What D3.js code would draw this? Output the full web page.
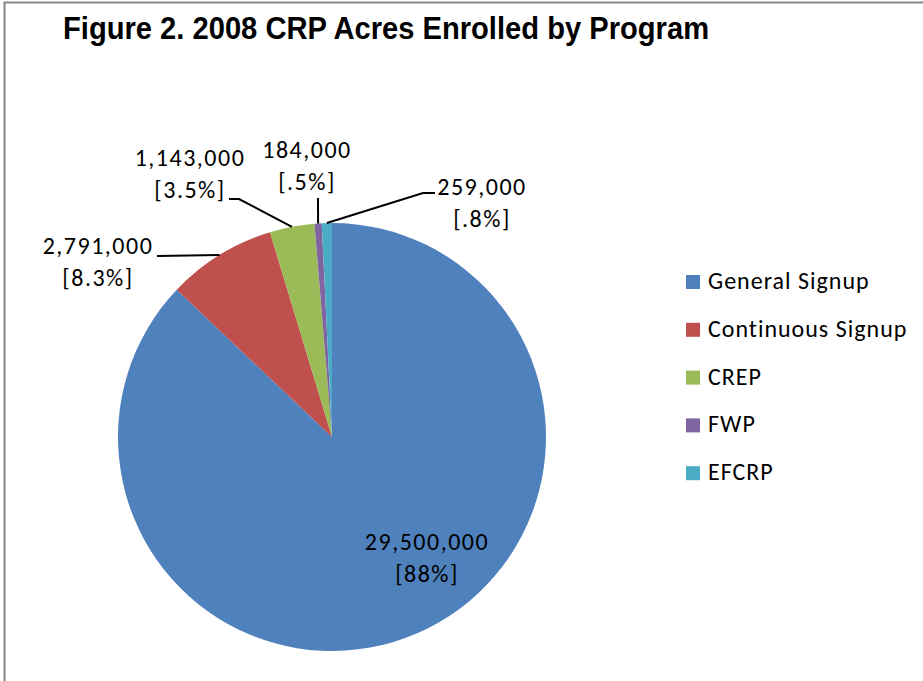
<!DOCTYPE html>
<meta charset="utf-8">
<script src="https://cdn.jsdelivr.net/npm/d3@7"></script>
<style>
body { margin: 0; background: #fff; }
text.lbl { font-family: Carlito, Lato, "Open Sans", sans-serif; font-size: 24px; fill: #000; letter-spacing: 1.5px; }
text.leg { font-family: Carlito, Lato, "Open Sans", sans-serif; font-size: 24px; fill: #000; letter-spacing: 1px; }
text.title { font-family: "Liberation Sans", Arial, sans-serif; font-weight: bold; font-size: 31px; fill: #000; }
</style>
<body>
<script>

// chart data
var programs = ["General Signup", "Continuous Signup", "CREP", "FWP", "EFCRP"];
var acres = [29500000, 2791000, 1143000, 184000, 259000];
var shares = ["88%", "8.3%", "3.5%", ".5%", ".8%"];
var colors = ["#4f81bd", "#c0504d", "#9bbb59", "#8064a2", "#4bacc6"];

var width = 923, height = 681;
var cx = 332, cy = 437, radius = 214;

// where Excel put each label (text centre, first baseline) and the bend of its leader line
var labelPos = [
  {x: 427, y: 550, lead: null},
  {x: 98, y: 254, lead: [[157, 256]]},
  {x: 190, y: 166, lead: [[229, 199], [239, 199]]},
  {x: 307, y: 158, lead: [[318, 198]]},
  {x: 482, y: 195, lead: [[435, 193], [423, 193]]}
];

var svg = d3.select("body").append("svg")
    .attr("width", width)
    .attr("height", height);

// outer frame
svg.append("rect")
    .attr("x", 4.5).attr("y", 2.5)
    .attr("width", 940).attr("height", 700)
    .attr("fill", "none")
    .attr("stroke", "#878787")
    .attr("stroke-width", 2);

svg.append("text")
    .attr("class", "title")
    .attr("transform", "translate(63,39) scale(0.94,1)")
    .text("Figure 2. 2008 CRP Acres Enrolled by Program");

var pie = d3.pie().sort(null).value(function(d, i) { return acres[i]; });
var arcs = pie(programs);

var arc = d3.arc().innerRadius(0).outerRadius(radius);
var rim = d3.arc().innerRadius(radius).outerRadius(radius);

var g = svg.append("g").attr("transform", "translate(" + cx + "," + cy + ")");

g.selectAll("path")
    .data(arcs)
    .enter().append("path")
    .attr("d", arc)
    .attr("fill", function(d, i) { return colors[i]; });

// leader lines
var line = d3.line();
svg.selectAll("path.lead")
    .data(arcs.filter(function(d, i) { return labelPos[i].lead; }))
    .enter().append("path")
    .attr("class", "lead")
    .attr("fill", "none")
    .attr("stroke", "#000")
    .attr("stroke-width", 2)
    .attr("d", function(d) {
      var p = rim.centroid(d);
      var pts = labelPos[d.index].lead.slice();
      pts.push([p[0] + cx, p[1] + cy]);
      return line(pts);
    });

// data labels
var fmt = d3.format(",");
var lbl = svg.selectAll("text.lbl")
    .data(arcs)
    .enter().append("text")
    .attr("class", "lbl")
    .attr("text-anchor", "middle")
    .attr("x", function(d) { return labelPos[d.index].x; })
    .attr("y", function(d) { return labelPos[d.index].y; });

lbl.append("tspan")
    .attr("x", function(d) { return labelPos[d.index].x; })
    .text(function(d) { return fmt(d.value); });
lbl.append("tspan")
    .attr("x", function(d) { return labelPos[d.index].x; })
    .attr("dy", 32)
    .text(function(d) { return "[" + shares[d.index] + "]"; });

// legend
var legend = svg.selectAll("g.legend")
    .data(programs)
    .enter().append("g")
    .attr("class", "legend")
    .attr("transform", function(d, i) { return "translate(686," + (282 + i * 47.8) + ")"; });

legend.append("rect")
    .attr("x", 0).attr("y", -7)
    .attr("width", 14).attr("height", 14)
    .attr("fill", function(d, i) { return colors[i]; });

legend.append("text")
    .attr("class", "leg")
    .attr("x", 22)
    .attr("y", 7)
    .text(function(d) { return d; });

</script>
</body>
